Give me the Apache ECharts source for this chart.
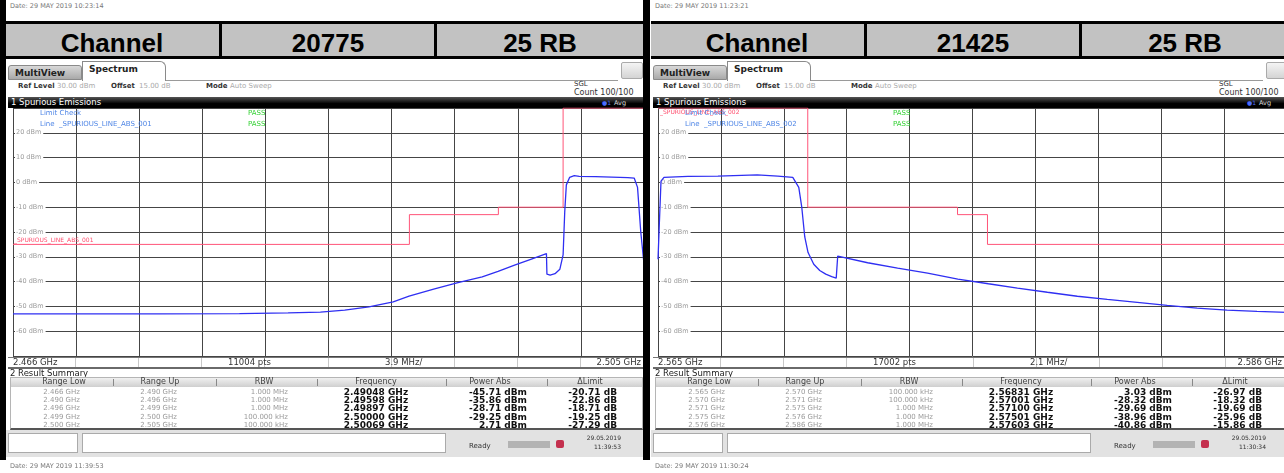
<!DOCTYPE html>
<html>
<head>
<meta charset="utf-8">
<title>Spurious Emissions</title>
<script src="https://cdn.jsdelivr.net/npm/echarts@6.0.0/dist/echarts.min.js"></script>
<style>
html, body { margin: 0; padding: 0; }
body { width: 1284px; height: 473px; overflow: hidden; position: relative; background: #fff; font-family: 'DejaVu Sans', sans-serif; }
.a { position: absolute; white-space: nowrap; }
.t { position: absolute; white-space: nowrap; line-height: 12px; height: 12px; }
.plot { position: absolute; }
</style>
</head>
<body>
<script>
// ---- data ----
const leftHeader = ['Channel', '20775', '25 RB'];
const rightHeader = ['Channel', '21425', '25 RB'];

const leftDates = ['Date: 29 MAY 2019 10:23:14', 'Date: 29 MAY 2019 11:39:53'];
const rightDates = ['Date: 29 MAY 2019 11:23:21', 'Date: 29 MAY 2019 11:30:24'];
const leftClock = ['29.05.2019', '11:39:53'];
const rightClock = ['29.05.2019', '11:30:34'];

const leftSpan = [2.466, 2.505];
const rightSpan = [2.565, 2.586];
const leftAxisTexts = ['2.466 GHz', '11004 pts', '3.9 MHz/', '2.505 GHz'];
const rightAxisTexts = ['2.565 GHz', '17002 pts', '2.1 MHz/', '2.586 GHz'];
const levelLabels = [20, 10, 0, -10, -20, -30, -40, -50, -60];

// trace 1 (avg), GHz / dBm
const leftTraceFreq = [2.4660, 2.4700, 2.4750, 2.4800, 2.4830, 2.4850, 2.4865, 2.4880, 2.4895, 2.49048,
  2.4920, 2.4935, 2.4950, 2.49598, 2.4970, 2.4980, 2.49897, 2.4990, 2.4992, 2.4995, 2.4998, 2.5000,
  2.5001, 2.5002, 2.5004, 2.50069, 2.5010, 2.5020, 2.5030, 2.5040, 2.5044, 2.5046, 2.5048, 2.5050];
const leftTraceLevel = [-53.0, -53.0, -53.0, -52.9, -52.6, -52.3, -51.5, -50.2, -48.2, -45.9,
  -43.0, -40.4, -38.1, -35.9, -33.4, -31.0, -28.7, -37.0, -37.4, -36.8, -35.0, -29.25,
  -12.0, -1.0, 2.0, 2.71, 2.4, 2.3, 2.1, 1.9, 1.7, -2.0, -20.0, -33.0];

const rightTraceFreq = [2.5650, 2.56505, 2.5651, 2.5652, 2.5660, 2.5670, 2.56831, 2.5690, 2.5695, 2.5697,
  2.5698, 2.5699, 2.57001, 2.5702, 2.5704, 2.5706, 2.5708, 2.57095, 2.5710, 2.5720, 2.5730, 2.5740,
  2.57501, 2.57603, 2.5770, 2.5780, 2.5790, 2.5800, 2.5810, 2.5820, 2.5830, 2.5840, 2.5850, 2.5860];
const rightTraceLevel = [-31.0, -15.0, 0.5, 2.0, 2.4, 2.5, 3.03, 2.5, 2.0, -2.0,
  -10.0, -22.0, -28.3, -33.0, -35.5, -37.0, -38.0, -38.6, -29.7, -32.4, -34.6, -36.6,
  -38.96, -40.86, -42.6, -44.3, -45.9, -47.2, -48.4, -49.6, -50.7, -51.5, -52.0, -52.4];

// limit lines _SPURIOUS_LINE_ABS_001 / 002
const leftLimitFreq = [2.466, 2.4905, 2.4905, 2.496, 2.496, 2.500, 2.500, 2.505];
const leftLimitLevel = [-25, -25, -13, -13, -10, -10, 30, 30];
const rightLimitFreq = [2.565, 2.570, 2.570, 2.575, 2.575, 2.576, 2.576, 2.586];
const rightLimitLevel = [30, 30, -10, -10, -13, -13, -25, -25];

// result summary
const summaryColumns = ['Range Low', 'Range Up', 'RBW', 'Frequency', 'Power Abs', '\u0394Limit'];
const leftRangeLow = [2.466, 2.490, 2.496, 2.499, 2.500];
const leftRangeUp = [2.490, 2.496, 2.499, 2.500, 2.505];
const leftRbw = ['1.000 MHz', '1.000 MHz', '1.000 MHz', '100.000 kHz', '100.000 kHz'];
const leftPeakFreq = [2.49048, 2.49598, 2.49897, 2.50000, 2.50069];
const leftPowerAbs = [-45.71, -35.86, -28.71, -29.25, 2.71];
const leftDeltaLimit = [-20.71, -22.86, -18.71, -19.25, -27.29];

const rightRangeLow = [2.565, 2.570, 2.571, 2.575, 2.576];
const rightRangeUp = [2.570, 2.571, 2.575, 2.576, 2.586];
const rightRbw = ['100.000 kHz', '100.000 kHz', '1.000 MHz', '1.000 MHz', '1.000 MHz'];
const rightPeakFreq = [2.56831, 2.57001, 2.57100, 2.57501, 2.57603];
const rightPowerAbs = [3.03, -28.32, -29.69, -38.96, -40.86];
const rightDeltaLimit = [-26.97, -18.32, -19.69, -25.96, -15.86];

// ---- little dom helpers ----
function box(x, y, w, h, css) {
  var d = document.createElement('div');
  d.className = 'a';
  d.style.left = x + 'px'; d.style.top = y + 'px';
  d.style.width = w + 'px'; d.style.height = h + 'px';
  Object.assign(d.style, css || {});
  document.body.appendChild(d);
  return d;
}
// y is the vertical centre; align l / c / r
function txt(x, y, s, css, align) {
  var d = document.createElement('div');
  d.className = 't';
  d.textContent = s;
  d.style.left = x + 'px'; d.style.top = (y - 6) + 'px';
  if (align === 'c') d.style.transform = 'translateX(-50%)';
  if (align === 'r') d.style.transform = 'translateX(-100%)';
  Object.assign(d.style, css || {});
  document.body.appendChild(d);
  return d;
}

function toPoints(freqs, levels, start) {
  return freqs.map(function (f, i) { return [(f - start) * 1000, levels[i]]; });
}

function buildPanel(ox, p) {
  var grey = { fontSize: '6.5px', color: '#777' };
  txt(ox + 10, 6, p.dates[0], grey);

  // channel header
  box(ox + 6, 21, 637, 38, { background: '#c2c2c2', borderTop: '3px solid #000', borderBottom: '3px solid #000', boxSizing: 'border-box' });
  box(ox + 219, 21, 3, 38, { background: '#000' });
  box(ox + 434, 21, 3, 38, { background: '#000' });
  var hf = { fontFamily: 'Liberation Sans', fontWeight: 'bold', fontSize: '26px', lineHeight: '30px', height: '30px', color: '#000' };
  txt(ox + 112, 34, p.header[0], hf, 'c');
  txt(ox + 328, 34, p.header[1], hf, 'c');
  txt(ox + 540, 34, p.header[2], hf, 'c');

  // tabs
  box(ox + 6, 59, 637, 38, { background: '#fff' });
  box(ox + 8, 65, 74, 15, { background: 'linear-gradient(#d8d8d8,#a9a9a9)', border: '1px solid #8a8a8a', borderRadius: '3px 3px 0 0', boxSizing: 'border-box' });
  txt(ox + 15, 73, 'MultiView', { fontSize: '9px', fontWeight: 'bold', color: '#222' });
  box(ox + 82, 61, 84, 20, { background: '#fff', border: '1px solid #8a8a8a', borderBottom: 'none', borderRadius: '0 6px 0 0', boxSizing: 'border-box' });
  txt(ox + 89, 69, 'Spectrum', { fontSize: '9px', fontWeight: 'bold', color: '#222' });
  box(ox + 166, 80, 452, 1, { background: '#9a9a9a' });
  box(ox + 621, 62, 22, 17, { background: 'linear-gradient(#f4f4f4,#d4d4d4)', border: '1px solid #aaa', borderRadius: '2px', boxSizing: 'border-box' });

  var dark = { fontSize: '7px', color: '#333', fontWeight: 'bold' };
  var light = { fontSize: '7px', color: '#aaa' };
  txt(ox + 18, 86, 'Ref Level', dark);
  txt(ox + 57, 86, '30.00 dBm', light);
  txt(ox + 111, 86, 'Offset', dark);
  txt(ox + 139, 86, '15.00 dB', light);
  txt(ox + 206, 86, 'Mode', dark);
  txt(ox + 230, 86, 'Auto Sweep', light);
  txt(ox + 574, 84, 'SGL', { fontSize: '7px', color: '#333' });
  txt(ox + 574, 93, 'Count 100/100', { fontSize: '8px', color: '#333' });

  // window title bar
  box(ox + 8, 97, 635, 11, { background: 'linear-gradient(#555,#000 60%)' });
  txt(ox + 11, 102, '1 Spurious Emissions', { fontSize: '8.5px', color: '#fff' });
  txt(ox + 602, 103, '\u25CF1', { fontSize: '6px', color: '#4a6cff' });
  txt(ox + 614, 103, 'Avg', { fontSize: '6.5px', color: '#ddd' });

  // plot
  var div = document.createElement('div');
  div.className = 'plot';
  div.style.left = (ox + 12) + 'px'; div.style.top = '107px';
  div.style.width = p.plotW + 'px'; div.style.height = '250px';
  document.body.appendChild(div);
  var span = (p.span[1] - p.span[0]) * 1000;
  var chart = echarts.init(div, null, { renderer: 'canvas' });
  chart.setOption({
    animation: false,
    grid: { left: 0, right: 1, top: 1, bottom: 1 },
    xAxis: {
      type: 'value', min: 0, max: span, interval: span / 10,
      axisLine: { show: false }, axisTick: { show: false }, axisLabel: { show: false },
      splitLine: { show: true, lineStyle: { color: '#454545', width: 1 } }
    },
    yAxis: {
      type: 'value', min: -70, max: 30, interval: 10,
      axisLine: { show: false }, axisTick: { show: false },
      axisLabel: {
        inside: true, margin: 2, fontSize: 6.5, color: '#9c9c9c', fontFamily: 'DejaVu Sans',
        backgroundColor: '#fff', padding: [0, 2, 0, 1],
        formatter: function (v) { return levelLabels.indexOf(v) >= 0 ? v + ' dBm' : ''; }
      },
      splitLine: { show: true, lineStyle: { color: '#454545', width: 1 } }
    },
    series: [
      {
        type: 'line', data: toPoints(p.limitF, p.limitL, p.span[0]), showSymbol: false,
        lineStyle: { color: '#ff5478', width: 1 }, z: 2
      },
      {
        type: 'line', data: toPoints(p.traceF, p.traceL, p.span[0]), showSymbol: false,
        lineStyle: { color: '#2f2ff2', width: 1.3 }, z: 3
      }
    ]
  });

  // in-plot legend texts
  var blue = { fontSize: '7px', color: '#4f86e6', zIndex: 5 };
  var green = { fontSize: '7px', color: '#33d133', zIndex: 5 };
  if (p.limitLabelTop) txt(ox + 15, 112, p.limitName, { fontSize: '6px', color: '#ff4d6d', zIndex: 5 });
  txt(ox + 40, 113, 'Limit Check', blue);
  txt(ox + 40, 124, 'Line', blue);
  txt(ox + 59, 124, p.limitName, blue);
  txt(ox + 248, 113, 'PASS', green);
  txt(ox + 248, 124, 'PASS', green);
  if (!p.limitLabelTop) txt(ox + 14, 240, p.limitName, { fontSize: '6px', color: '#ff4d6d', zIndex: 5 });

  // x axis info row
  var ax = { fontSize: '8.5px', color: '#333' };
  box(ox + 8, 357, 635, 10, { background: '#fff', borderTop: '1px solid #777', boxSizing: 'border-box' });
  for (var k = 1; k < 10; k++) box(ox + 12 + k * 63.1, 358, 1, 9, { background: '#c8c8c8' });
  txt(ox + 13, 362, p.axisTexts[0], ax);
  txt(ox + 228, 362, p.axisTexts[1], ax);
  txt(ox + 385, 362, p.axisTexts[2], ax);
  txt(ox + p.stopX, 362, p.axisTexts[3], ax, 'r');
  box(ox + 8, 367, 635, 2, { background: '#6a6a6a' });

  // result summary
  txt(ox + 10, 373, '2 Result Summary', { fontSize: '8.5px', color: '#222' });
  box(ox + 10, 377, 633, 53, { background: '#fff', border: '1px solid #b5b5b5', borderBottom: '2px solid #555', boxSizing: 'border-box' });
  box(ox + 11, 378, 631, 9, { background: 'linear-gradient(#f0f0f0,#cfcfcf)' });
  var colC = [64, 160, 264, 376, 490, 590];
  var seps = [113, 216, 317, 446, 547];
  summaryColumns.forEach(function (c, i) { txt(ox + colC[i], 382, c, { fontSize: '8px', color: '#444' }, 'c'); });
  seps.forEach(function (s) { box(ox + s, 379, 1, 7, { background: '#888' }); });
  var lt = { fontSize: '7px', color: '#9a9a9a' };
  var bd = { fontSize: '9px', color: '#111', fontWeight: 'bold' };
  for (var r = 0; r < 5; r++) {
    var y = 391.5 + r * 8.4;
    txt(ox + 80, y, p.low[r].toFixed(3) + ' GHz', lt, 'r');
    txt(ox + 177, y, p.up[r].toFixed(3) + ' GHz', lt, 'r');
    txt(ox + 288, y, p.rbw[r], lt, 'r');
    txt(ox + 376, y, p.peak[r].toFixed(5) + ' GHz', bd, 'c');
    txt(ox + 527, y, p.power[r].toFixed(2) + ' dBm', bd, 'r');
    txt(ox + 617, y, p.delta[r].toFixed(2) + ' dB', bd, 'r');
  }

  // status bar
  box(ox + 6, 430, 637, 27, { background: '#e2e2e2' });
  box(ox + 8, 433, 70, 20, { background: '#fff', border: '1px solid #aaa', boxSizing: 'border-box' });
  box(ox + 82, 433, 364, 20, { background: '#fff', border: '1px solid #aaa', boxSizing: 'border-box' });
  txt(ox + 469, 446, 'Ready', { fontSize: '7px', color: '#333' });
  box(ox + 508, 441, 42, 7, { background: '#b3b3b3' });
  box(ox + 556, 440, 8, 8, { background: '#c4304e', borderRadius: '2px' });
  txt(ox + 621, 438, p.clock[0], { fontSize: '6px', color: '#333' }, 'r');
  txt(ox + 621, 447, p.clock[1], { fontSize: '6px', color: '#333' }, 'r');

  txt(ox + 10, 466, p.dates[1], grey);
}

buildPanel(0, {
  header: leftHeader, dates: leftDates, clock: leftClock, span: leftSpan, plotW: 633,
  axisTexts: leftAxisTexts, stopX: 641, limitName: '_SPURIOUS_LINE_ABS_001', limitLabelTop: false,
  traceF: leftTraceFreq, traceL: leftTraceLevel, limitF: leftLimitFreq, limitL: leftLimitLevel,
  low: leftRangeLow, up: leftRangeUp, rbw: leftRbw, peak: leftPeakFreq, power: leftPowerAbs, delta: leftDeltaLimit
});
buildPanel(645, {
  header: rightHeader, dates: rightDates, clock: rightClock, span: rightSpan, plotW: 631,
  axisTexts: rightAxisTexts, stopX: 637, limitName: '_SPURIOUS_LINE_ABS_002', limitLabelTop: true,
  traceF: rightTraceFreq, traceL: rightTraceLevel, limitF: rightLimitFreq, limitL: rightLimitLevel,
  low: rightRangeLow, up: rightRangeUp, rbw: rightRbw, peak: rightPeakFreq, power: rightPowerAbs, delta: rightDeltaLimit
});

// black frame bars
box(0, 0, 6, 460, { background: '#000', zIndex: 10 });
box(643, 0, 7, 460, { background: '#000', zIndex: 10 });
</script>
</body>
</html>
